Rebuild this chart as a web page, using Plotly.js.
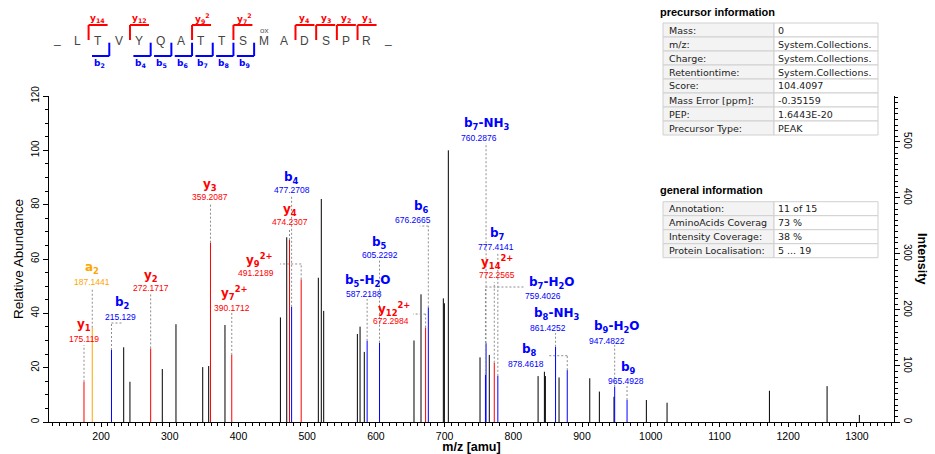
<!DOCTYPE html>
<html>
<head>
<meta charset="utf-8">
<script src="https://cdn.plot.ly/plotly-3.0.1.min.js"></script>
<style>html,body{margin:0;padding:0;background:#fff;}#chart{width:935px;height:454px;}</style>
</head>
<body>
<div id="chart"></div>
<script>
// ---------------- DATA ----------------
// annotated fragment peaks
const annMz     = [175.119, 187.1441, 215.129, 272.1717, 359.2087, 390.1712, 474.2307, 477.2708, 491.2189, 587.2188, 605.2292, 672.2984, 676.2665, 759.4026, 760.2876, 772.2565, 777.4141, 861.4252, 878.4618, 947.4822, 965.4928];
const annRel    = [14.8, 34.7, 26.5, 27.1, 66.0, 24.7, 67.0, 42.4, 52.5, 29.9, 29.2, 34.8, 42.2, 17.3, 29.0, 21.8, 17.0, 27.7, 19.1, 13.0, 8.1];
const annType   = ['y','a','b','y','y','y','y','b','y','b','b','y','b','b','b','y','b','b','b','b','b'];
const annNumber = [1, 2, 2, 2, 3, 7, 4, 4, 9, 5, 5, 12, 6, 7, 7, 14, 7, 8, 8, 9, 9];
const annLoss   = ['', '', '', '', '', '', '', '', '', 'H2O', '', '', '', 'H2O', 'NH3', '', '', 'NH3', '', 'H2O', ''];
const annCharge = [1, 1, 1, 1, 1, 2, 1, 1, 2, 1, 1, 2, 1, 1, 1, 2, 1, 1, 1, 1, 1];
// unannotated peaks
const otherMz  = [232.9, 242.0, 289.1, 309.0, 347.9, 356.6, 380.3, 461.0, 470.2, 516.2, 520.5, 524.0, 573.0, 576.9, 583.1, 655.4, 665.6, 698.1, 699.6, 705.4, 751.5, 765.0, 836.0, 845.2, 846.6, 866.5, 911.2, 925.2, 946.5, 993.6, 1023.7, 1172.7, 1256.6, 1303.6];
const otherRel = [27.5, 14.8, 19.5, 36.0, 20.2, 20.6, 35.7, 38.5, 68.0, 53.1, 82.1, 40.9, 32.4, 35.1, 25.8, 30.0, 47.0, 45.5, 43.7, 100.0, 23.8, 24.7, 16.9, 18.5, 16.9, 16.4, 16.1, 11.2, 9.3, 8.1, 7.1, 11.5, 13.2, 2.6];
// sequence coverage
const sequence   = ['L','T','V','Y','Q','A','T','T','S','M','A','D','S','P','R'];
const yIonNumber = [14, 12, 9, 7, 4, 3, 2, 1];
const yIonCharge = [1, 1, 2, 2, 1, 1, 1, 1];
const bIonNumber = [2, 4, 5, 6, 7, 8, 9];
// info tables
const precursorLabels = ['Mass:', 'm/z:', 'Charge:', 'Retentiontime:', 'Score:', 'Mass Error [ppm]:', 'PEP:', 'Precursor Type:'];
const precursorValues = ['0', 'System.Collections.', 'System.Collections.', 'System.Collections.', '104.4097', '-0.35159', '1.6443E-20', 'PEAK'];
const generalLabels = ['Annotation:', 'AminoAcids Coverag', 'Intensity Coverage:', 'Protein Localisation:'];
const generalValues = ['11 of 15', '73 %', '38 %', '5 ... 19'];
// axes
const relRange = [0, 120];
const intensityRange = [0, 582];
const mzRange = [124.2, 1354];

// ---------------- LAYOUT / STYLE ----------------
const W = 935, H = 454, L = 49, R = 894, T = 96, B = 422;
const SANS = 'Liberation Sans, Arial, sans-serif';
const DJV = 'DejaVu Sans, sans-serif';
const COLORS = {y: '#ff0000', b: '#0000ff', a: '#ffa500', n: '#000000'};
const px = x => (x - L) / (R - L);
const py = y => (B - y) / (B - T);

// label offsets in pixels relative to peak top: [nameDx, nameDy, mzDx, mzDy, leaderTop, elbowDx]
const labelGeom = [
  [0, 56.8, 0, 42.8, 36.8, 0],
  [0, 59.7, 0, 45.7, 39.7, 0],
  [11.5, 47, 9.5, 33, 27, 11.5],
  [0, 72.4, 0, 60.4, 55.4, 0],
  [0, 57.7, 0, 45.7, 39.7, 0],
  [3, 62, 0, 47, 42, 0],
  [0, 30, 0, 18, 12, 0],
  [0, 128.8, 0, 116.8, 110.8, 0],
  [-42, 19.4, -45, 6.4, 15.4, -21],
  [0, 59.8, -3, 46.8, 41.8, 0],
  [0, 99.7, 0, 87.7, 82.7, 0],
  [-32, 18.4, -35, 6.4, 13.4, -12.6],
  [-7, 100.3, -15, 87.3, 81.3, -8.6],
  [65.6, 92, 57.6, 79, 88, 38.6],
  [1, 219.2, -7, 205.2, 200.2, 0],
  [3, 100.8, 3, 87.8, 80.8, 0],
  [0, 141.8, -2, 128.8, 122.8, 0],
  [1.5, 32.7, -7.5, 18.7, 13.7, 0],
  [-38, 20.1, -41, 6.1, 14.4, -18.2],
  [1.4, 59.7, -7.6, 45.7, 41.7, 0],
  [1, 32, -1, 19, 14, 0]
];

function sticks(mzs, rels, color) {
  const x = [], y = [];
  mzs.forEach((m, i) => { x.push(m, m, null); y.push(0, rels[i], null); });
  return {x, y, type: 'scatter', mode: 'lines', line: {color, width: 1}, hoverinfo: 'skip', showlegend: false, cliponaxis: true};
}

const traces = [sticks(otherMz, otherRel, COLORS.n)];
['a', 'y', 'b'].forEach(t => {
  const m = [], r = [];
  annMz.forEach((v, i) => { if (annType[i] === t) { m.push(v); r.push(annRel[i]); } });
  traces.push(sticks(m, r, COLORS[t]));
});
traces.push({x: [annMz[0]], y: [0], yaxis: 'y2', type: 'scatter', mode: 'markers', marker: {opacity: 0}, hoverinfo: 'skip', showlegend: false});

function ionHtml(type, num, loss, charge) {
  let s = type + '<sub>' + num + '</sub>';
  if (loss === 'H2O') s += '-H<sub>2</sub>O';
  if (loss === 'NH3') s += '-NH<sub>3</sub>';
  if (charge > 1) s += '<sup>' + charge + '+</sup>';
  return '<b>' + s + '</b>';
}

const annotations = [];
const shapes = [];
const dash = {color: '#8c8c8c', width: 1, dash: '2px,2px'};

annMz.forEach((m, i) => {
  const g = labelGeom[i];
  const col = COLORS[annType[i]];
  annotations.push({x: m, y: annRel[i], xref: 'x', yref: 'y', xshift: g[0], yshift: g[1], showarrow: false,
    text: ionHtml(annType[i], annNumber[i], annLoss[i], annCharge[i]), font: {family: DJV, size: 12, color: col}, xanchor: 'center', yanchor: 'middle'});
  annotations.push({x: m, y: annRel[i], xref: 'x', yref: 'y', xshift: g[2], yshift: g[3], showarrow: false,
    text: String(m), font: {family: SANS, size: 8.5, color: col}, xanchor: 'center', yanchor: 'middle'});
  shapes.push({type: 'line', xref: 'x', yref: 'y', xsizemode: 'pixel', ysizemode: 'pixel', xanchor: m, yanchor: annRel[i],
    x0: 0, x1: 0, y0: 0, y1: g[4], line: dash, layer: 'above'});
  if (g[5] !== 0) {
    shapes.push({type: 'line', xref: 'x', yref: 'y', xsizemode: 'pixel', ysizemode: 'pixel', xanchor: m, yanchor: annRel[i],
      x0: 0, x1: g[5], y0: g[4], y1: g[4], line: dash, layer: 'above'});
  }
});

// ---- sequence coverage graphic ----
const seqX0 = 77.3, seqStep = 20.69, seqY = 41.5;
const cx = k => seqX0 + seqStep * k;
sequence.forEach((aa, k) => {
  annotations.push({x: px(cx(k)), y: py(seqY), xref: 'paper', yref: 'paper', text: aa, showarrow: false,
    font: {family: SANS, size: 12, color: '#444'}, xanchor: 'center', yanchor: 'middle'});
});
[-1, sequence.length].forEach(k => {
  annotations.push({x: px(cx(k)), y: py(seqY - 3), xref: 'paper', yref: 'paper', text: '_', showarrow: false,
    font: {family: SANS, size: 12, color: '#444'}, xanchor: 'center', yanchor: 'middle'});
});
annotations.push({x: px(cx(9) + 0.5), y: py(30.5), xref: 'paper', yref: 'paper', text: 'ox', showarrow: false,
  font: {family: SANS, size: 8, color: '#555'}, xanchor: 'center', yanchor: 'middle'});

function pline(x0, y0, x1, y1, color) {
  shapes.push({type: 'line', xref: 'paper', yref: 'paper', x0: px(x0), y0: py(y0), x1: px(x1), y1: py(y1), line: {color, width: 2}});
}
yIonNumber.forEach((n, i) => {
  const j = sequence.length - n;
  const xv = cx(j) - 9.4;
  pline(xv, 25, xv, 40, COLORS.y);
  pline(xv, 25, cx(j) + 9.6, 25, COLORS.y);
  const txt = '<b>y<sub>' + n + '</sub>' + (yIonCharge[i] > 1 ? '<sup>' + yIonCharge[i] + '</sup>' : '') + '</b>';
  annotations.push({x: px(cx(j) + (yIonCharge[i] > 1 ? 1.5 : 0)), y: py(18.5), xref: 'paper', yref: 'paper', text: txt, showarrow: false,
    font: {family: DJV, size: 9, color: COLORS.y}, xanchor: 'center', yanchor: 'middle'});
});
bIonNumber.forEach(n => {
  const k = n - 1;
  const xv = cx(k) + 11.3;
  pline(xv, 42.7, xv, 56, COLORS.b);
  pline(cx(k) - 6, 56, xv, 56, COLORS.b);
  annotations.push({x: px(cx(k) + 1.5), y: py(63.5), xref: 'paper', yref: 'paper', text: '<b>b<sub>' + n + '</sub></b>', showarrow: false,
    font: {family: DJV, size: 9, color: COLORS.b}, xanchor: 'center', yanchor: 'middle'});
});

// ---- info tables ----
function table(title, titleY, labels, values, top) {
  const rowH = 14, xl = 663, xm = 774, xr = 878;
  annotations.push({x: px(658), y: py(titleY), xref: 'paper', yref: 'paper', text: '<b>' + title + '</b>', showarrow: false,
    font: {family: SANS, size: 11, color: '#000'}, xanchor: 'left', yanchor: 'middle'});
  labels.forEach((lab, i) => {
    const y0 = top + i * rowH, y1 = y0 + rowH;
    shapes.push({type: 'rect', xref: 'paper', yref: 'paper', x0: px(xl), x1: px(xm), y0: py(y0), y1: py(y1),
      fillcolor: '#f3f3f3', line: {color: '#d0d0d0', width: 1}, layer: 'above'});
    shapes.push({type: 'rect', xref: 'paper', yref: 'paper', x0: px(xm), x1: px(xr), y0: py(y0), y1: py(y1),
      fillcolor: '#ffffff', line: {color: '#d0d0d0', width: 1}, layer: 'above'});
    annotations.push({x: px(xl + 4), y: py(y0 + rowH / 2), xref: 'paper', yref: 'paper', text: lab, showarrow: false,
      font: {family: DJV, size: 9.5, color: '#222'}, xanchor: 'left', yanchor: 'middle'});
    annotations.push({x: px(xm + 2), y: py(y0 + rowH / 2), xref: 'paper', yref: 'paper', text: values[i], showarrow: false,
      font: {family: DJV, size: 9.5, color: '#222'}, xanchor: 'left', yanchor: 'middle'});
  });
}
table('precursor information', 12, precursorLabels, precursorValues, 23);
table('general information', 190, generalLabels, generalValues, 201.7);

// right axis title
annotations.push({x: px(922), y: py(258), xref: 'paper', yref: 'paper', text: '<b>Intensity</b>', textangle: 90, showarrow: false,
  font: {family: SANS, size: 12.5, color: '#000'}, xanchor: 'center', yanchor: 'middle'});

const axisCommon = {showline: true, linecolor: '#000', linewidth: 1, ticks: 'outside', ticklen: 5, tickcolor: '#000', tickwidth: 1,
  showgrid: false, zeroline: false, fixedrange: true};

const layout = {
  width: W, height: H,
  margin: {l: L, r: W - R, t: T, b: H - B, pad: 0},
  paper_bgcolor: '#fff', plot_bgcolor: '#fff',
  showlegend: false, hovermode: false,
  xaxis: Object.assign({}, axisCommon, {range: mzRange, tick0: 0, dtick: 100, ticklen: 4,
    minor: {dtick: 10, ticks: 'outside', ticklen: 3, tickcolor: '#000'},
    tickfont: {family: SANS, size: 10.5, color: '#000'},
    title: {text: '<b>m/z [amu]</b>', font: {family: SANS, size: 12.5, color: '#000'}, standoff: 4}, automargin: false}),
  yaxis: Object.assign({}, axisCommon, {range: relRange, dtick: 20, tickangle: -90,
    minor: {dtick: 5, ticks: 'outside', ticklen: 3, tickcolor: '#000'},
    tickfont: {family: SANS, size: 10, color: '#000'},
    title: {text: 'Relative Abundance', font: {family: SANS, size: 13.5, color: '#000'}, standoff: 3}, automargin: false}),
  yaxis2: Object.assign({}, axisCommon, {range: intensityRange, dtick: 100, tickangle: 90, overlaying: 'y', side: 'right',
    minor: {dtick: 10, ticks: 'outside', ticklen: 3, tickcolor: '#000'},
    tickfont: {family: SANS, size: 10, color: '#000'}, automargin: false}),
  annotations, shapes
};

Plotly.newPlot('chart', traces, layout, {staticPlot: true, displayModeBar: false});
</script>
</body>
</html>
